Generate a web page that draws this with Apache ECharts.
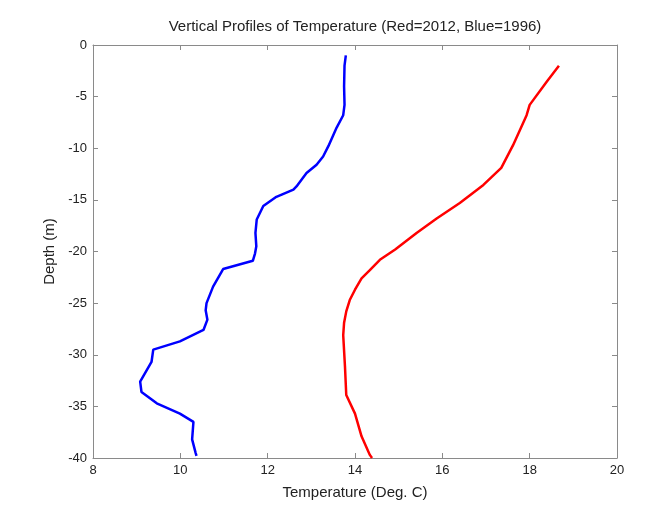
<!DOCTYPE html>
<html>
<head>
<meta charset="utf-8">
<script src="https://cdn.jsdelivr.net/npm/echarts@6/dist/echarts.min.js"></script>
<style>html,body{margin:0;padding:0;background:#fff}#c{width:671px;height:510px}</style>
</head>
<body>
<div id="c"></div>
<script>
var titleText = 'Vertical Profiles of Temperature (Red=2012, Blue=1996)';
var xName = 'Temperature (Deg. C)';
var yName = 'Depth (m)';
var xTicks = [8, 10, 12, 14, 16, 18, 20];
var yTicks = [-40, -35, -30, -25, -20, -15, -10, -5, 0];

var blueDepth = [-1, -2, -4, -5.8, -6.8, -8, -9.8, -10.8, -11.6, -12.4, -13.7, -14, -14.7, -15.6, -16.9, -18.2, -19.5, -20.2, -20.9, -21.7, -23.4, -25.0, -25.7, -26.6, -27.6, -28.7, -29.5, -30.7, -32.6, -33.6, -34.7, -35.7, -36.5, -38.2, -39.5, -39.8];
var blueTemp  = [13.79, 13.76, 13.75, 13.76, 13.73, 13.58, 13.39, 13.27, 13.12, 12.89, 12.66, 12.59, 12.2, 11.9, 11.75, 11.72, 11.74, 11.71, 11.66, 10.98, 10.75, 10.6, 10.58, 10.62, 10.53, 9.99, 9.38, 9.34, 9.08, 9.11, 9.46, 9.99, 10.3, 10.27, 10.35, 10.37];

var redDepth = [-2, -3.55, -5.8, -6.8, -9.7, -11.9, -13.55, -15.3, -16.8, -18.2, -19.8, -20.8, -21.8, -22.6, -23.7, -24.7, -25.8, -26.9, -28.1, -31.1, -33.9, -35.7, -37.9, -39.7, -40];
var redTemp  = [18.67, 18.39, 18.0, 17.93, 17.62, 17.35, 16.94, 16.4, 15.87, 15.41, 14.92, 14.57, 14.34, 14.15, 14.0, 13.88, 13.8, 13.75, 13.73, 13.77, 13.8, 14.0, 14.15, 14.34, 14.39];

function pairs(t, d) { return t.map(function (v, i) { return [v, d[i]]; }); }

var font = 'Liberation Sans, Arial, sans-serif';
var axisCol = '#8a8a8a';
var xMin = xTicks[0], xMax = xTicks[xTicks.length - 1], xInt = xTicks[1] - xTicks[0];
var yMin = yTicks[0], yMax = yTicks[yTicks.length - 1], yInt = yTicks[1] - yTicks[0];

function xa(pos, labels) {
  return {
    type: 'value', position: pos, min: xMin, max: xMax, interval: xInt,
    name: labels ? xName : '', nameLocation: 'middle', nameGap: 27,
    nameTextStyle: { fontFamily: font, fontSize: 15, color: '#222' },
    axisLine: { show: true, onZero: false, lineStyle: { color: axisCol, width: 1 } },
    axisTick: { show: true, inside: true, length: 5, lineStyle: { color: axisCol } },
    axisLabel: { show: labels, fontFamily: font, fontSize: 13, color: '#222', margin: 6 },
    splitLine: { show: false }
  };
}
function ya(pos, labels) {
  return {
    type: 'value', position: pos, min: yMin, max: yMax, interval: yInt,
    name: labels ? yName : '', nameLocation: 'middle', nameGap: 33, nameRotate: 90,
    nameTextStyle: { fontFamily: font, fontSize: 15, color: '#222' },
    axisLine: { show: true, onZero: false, lineStyle: { color: axisCol, width: 1 } },
    axisTick: { show: true, inside: true, length: 5, lineStyle: { color: axisCol } },
    axisLabel: { show: labels, fontFamily: font, fontSize: 13, color: '#222', margin: 6 },
    splitLine: { show: false }
  };
}

var chart = echarts.init(document.getElementById('c'), null, { renderer: 'canvas' });
chart.setOption({
  backgroundColor: '#ffffff',
  animation: false,
  graphic: [{
    type: 'text', x: 355, y: 27,
    style: { text: titleText, fontFamily: font, fontSize: 15, fill: '#222', textAlign: 'center', textVerticalAlign: 'middle' }
  }],
  grid: { left: 93, right: 54, top: 45, bottom: 52, containLabel: false },
  xAxis: [xa('bottom', true), xa('top', false)],
  yAxis: [ya('left', true), ya('right', false)],
  series: [
    { type: 'line', xAxisIndex: 0, yAxisIndex: 0, data: pairs(blueTemp, blueDepth), showSymbol: false, symbol: 'none',
      lineStyle: { color: '#0000ff', width: 2.5 }, itemStyle: { color: '#0000ff' } },
    { type: 'line', xAxisIndex: 0, yAxisIndex: 0, data: pairs(redTemp, redDepth), showSymbol: false, symbol: 'none',
      lineStyle: { color: '#ff0000', width: 2.5 }, itemStyle: { color: '#ff0000' } }
  ]
});
</script>
</body>
</html>
